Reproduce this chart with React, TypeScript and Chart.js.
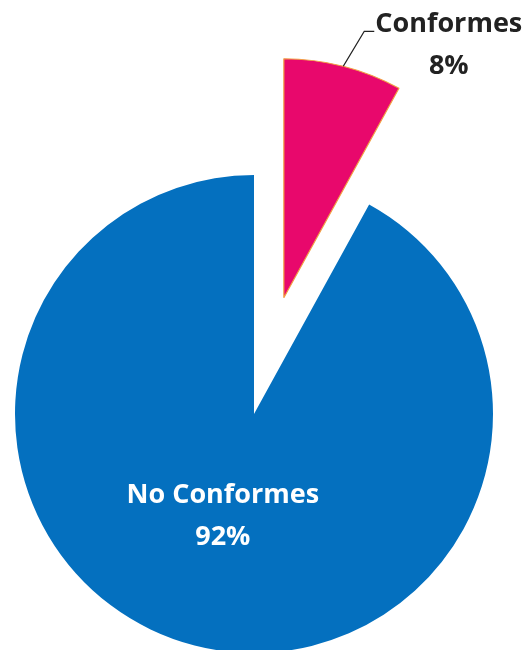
import React, { useEffect, useRef } from "react";
import { Chart, registerables } from "chart.js";

Chart.register(...registerables);

const categories = ["Conformes", "No Conformes"];
const values = [8, 92];
const percentLabels = ["8%", "92%"];
const sliceColors = ["#E8086C", "#0470BF"];
const sliceBorders = ["#F2A043", "#0470BF"];
const explodeDistance = [120, 0];

const explodePlugin = {
  id: "explodeSlices",
  afterDatasetUpdate(chart: any, args: any) {
    const meta = chart.getDatasetMeta(args.index);
    meta.data.forEach((arc: any, i: number) => {
      const d = explodeDistance[i] || 0;
      if (!d) return;
      const mid = (arc.startAngle + arc.endAngle) / 2;
      arc.x += Math.cos(mid) * d;
      arc.y += Math.sin(mid) * d;
    });
  },
};

const labelPlugin = {
  id: "sliceLabels",
  afterDatasetsDraw(chart: any) {
    const ctx = chart.ctx;
    const meta = chart.getDatasetMeta(0);
    ctx.save();
    ctx.font = "bold 27px 'Open Sans'";
    ctx.textBaseline = "middle";
    meta.data.forEach((arc: any, i: number) => {
      const mid = (arc.startAngle + arc.endAngle) / 2;
      const cx = arc.x;
      const cy = arc.y;
      if (i === 0) {
        const ax = cx + Math.cos(mid) * arc.outerRadius;
        const ay = cy + Math.sin(mid) * arc.outerRadius;
        const ex = ax + 21;
        const ey = ay - 35;
        ctx.strokeStyle = "#222";
        ctx.lineWidth = 1.3;
        ctx.beginPath();
        ctx.moveTo(ax, ay);
        ctx.lineTo(ex, ey);
        ctx.lineTo(ex + 10, ey);
        ctx.stroke();
        ctx.fillStyle = "#222";
        ctx.textAlign = "left";
        const tx = ex + 11;
        ctx.fillText(categories[i], tx, ey - 7);
        const w = ctx.measureText(categories[i]).width;
        ctx.textAlign = "center";
        ctx.fillText(percentLabels[i], tx + w / 2, ey + 35);
      } else {
        const r = arc.outerRadius * 0.44;
        const lx = cx + Math.cos(mid) * r - 5;
        const ly = cy + Math.sin(mid) * r;
        ctx.fillStyle = "#FFFFFF";
        ctx.textAlign = "center";
        ctx.fillText(categories[i], lx, ly - 21);
        ctx.fillText(percentLabels[i], lx, ly + 21);
      }
    });
    ctx.restore();
  },
};

export default function App() {
  const ref = useRef<HTMLCanvasElement | null>(null);
  useEffect(() => {
    if (!ref.current) return;
    const chart = new Chart(ref.current, {
      type: "pie",
      data: {
        labels: categories,
        datasets: [
          {
            data: values,
            backgroundColor: sliceColors,
            borderColor: sliceBorders,
            borderWidth: [1.2, 0],
            clip: false as any,
          } as any,
        ],
      },
      options: {
        animation: false,
        responsive: true,
        maintainAspectRatio: false,
        radius: 239,
        layout: { padding: { top: 178, left: 0, right: 19, bottom: 0 } },
        plugins: {
          legend: { display: false },
          tooltip: { enabled: false },
        },
      } as any,
      plugins: [explodePlugin, labelPlugin],
    });
    return () => chart.destroy();
  }, []);
  return (
    <div style={{ position: "absolute", left: 0, top: 0, width: 527, height: 650, background: "#fff" }}>
      <canvas ref={ref} />
    </div>
  );
}
